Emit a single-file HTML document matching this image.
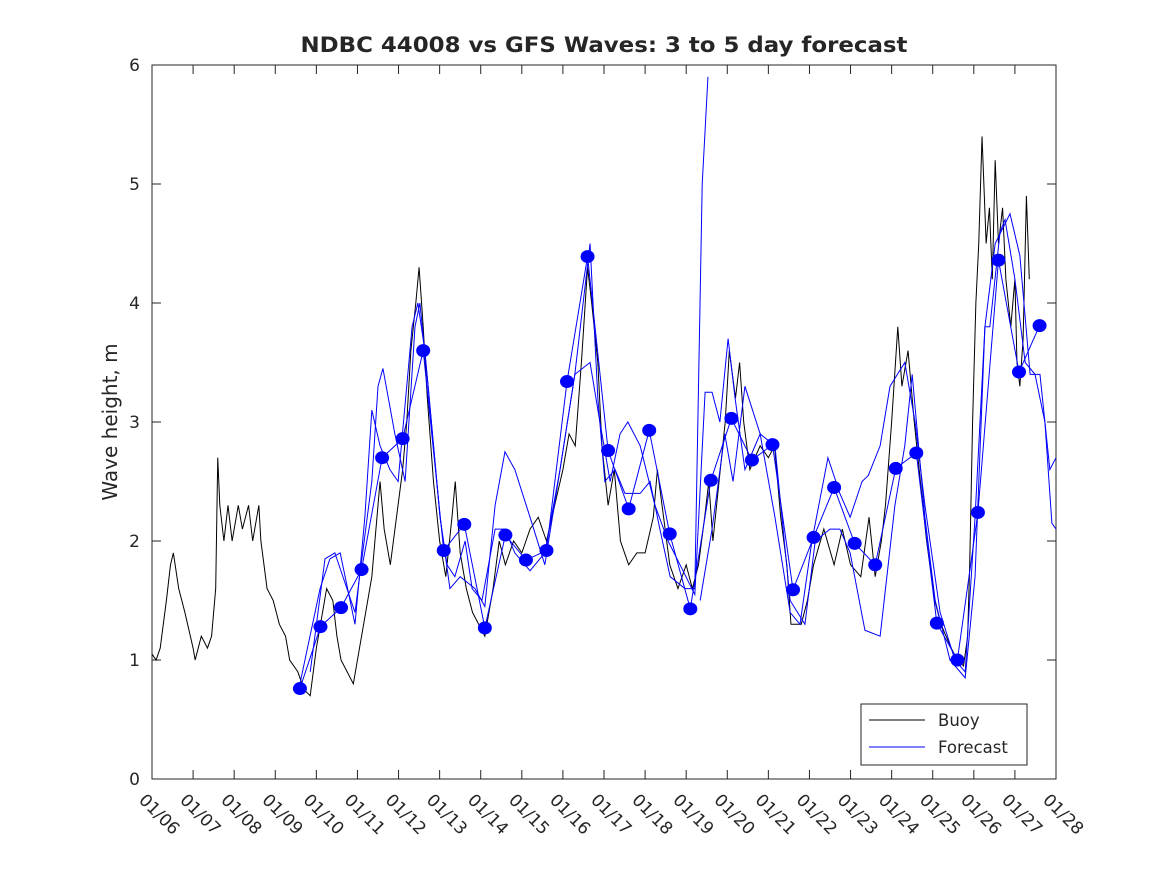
<!DOCTYPE html>
<html><head><meta charset="utf-8"><style>
body{margin:0;background:#fff}
svg text{font-family:"DejaVu Sans","Liberation Sans",sans-serif;fill:#262626}
</style></head><body>
<svg id="chart" width="1167" height="875">
<rect width="1167" height="875" fill="#fff"/>
<text x="604" y="52" text-anchor="middle" font-size="21" font-weight="bold" textLength="607" lengthAdjust="spacingAndGlyphs" fill="#000">NDBC 44008 vs GFS Waves: 3 to 5 day forecast</text>
<text transform="translate(117,422) rotate(-90)" text-anchor="middle" font-size="20">Wave height, m</text>
<g id="axes"></g>
<g id="plot"></g>
<g id="legend">
<rect x="861" y="704" width="166" height="61" fill="#fff" stroke="#262626" stroke-width="1"/>
<line x1="869" y1="720" x2="925" y2="720" stroke="#000"/>
<text x="938" y="726" font-size="16.5">Buoy</text>
<line x1="869" y1="747" x2="925" y2="747" stroke="#0000ff"/>
<text x="938" y="753" font-size="16.5">Forecast</text>
</g>
</svg>
<script>
const xTickLabels=["01/06","01/07","01/08","01/09","01/10","01/11","01/12","01/13","01/14","01/15","01/16","01/17","01/18","01/19","01/20","01/21","01/22","01/23","01/24","01/25","01/26","01/27","01/28"];
const yTicks=[0,1,2,3,4,5,6];
const buoyDays=[0,0.1,0.2,0.35,0.45,0.52,0.65,0.8,1.0,1.05,1.2,1.35,1.45,1.55,1.6,1.65,1.75,1.85,1.95,2.1,2.2,2.35,2.45,2.6,2.65,2.8,2.95,3.1,3.25,3.35,3.55,3.7,3.85,4.0,4.15,4.25,4.4,4.5,4.6,4.75,4.9,5.05,5.2,5.35,5.45,5.55,5.65,5.8,5.95,6.1,6.2,6.3,6.42,6.5,6.6,6.7,6.85,7.0,7.15,7.3,7.38,7.5,7.65,7.8,7.95,8.1,8.3,8.45,8.6,8.8,9.0,9.2,9.4,9.6,9.8,10.0,10.15,10.3,10.45,10.6,10.7,10.85,10.95,11.1,11.25,11.4,11.6,11.8,12.0,12.2,12.3,12.45,12.6,12.8,13.0,13.15,13.3,13.45,13.55,13.65,13.8,13.95,14.05,14.2,14.3,14.4,14.55,14.8,15.0,15.15,15.3,15.45,15.55,15.8,15.95,16.1,16.35,16.6,16.8,17.0,17.25,17.45,17.6,17.75,17.85,18.0,18.15,18.25,18.4,18.55,18.7,18.85,19.05,19.2,19.45,19.6,19.75,19.85,19.9,19.97,20.05,20.12,20.2,20.3,20.38,20.45,20.52,20.6,20.7,20.78,20.9,21.0,21.05,21.12,21.2,21.28,21.35];
const buoyHeights=[1.05,1.0,1.1,1.5,1.8,1.9,1.6,1.4,1.1,1.0,1.2,1.1,1.2,1.6,2.7,2.3,2.0,2.3,2.0,2.3,2.1,2.3,2.0,2.3,2.0,1.6,1.5,1.3,1.2,1.0,0.9,0.75,0.7,1.1,1.4,1.6,1.5,1.2,1.0,0.9,0.8,1.1,1.4,1.7,2.1,2.5,2.1,1.8,2.2,2.6,3.0,3.6,4.0,4.3,3.8,3.2,2.5,2.0,1.7,2.2,2.5,1.9,1.6,1.4,1.3,1.2,1.6,2.0,1.8,2.0,1.9,2.1,2.2,2.0,2.3,2.6,2.9,2.8,3.5,4.3,4.0,3.5,2.8,2.3,2.6,2.0,1.8,1.9,1.9,2.2,2.6,2.2,1.8,1.6,1.8,1.6,1.8,2.2,2.5,2.0,2.5,3.0,3.6,3.2,3.5,3.0,2.6,2.8,2.7,2.8,2.2,1.8,1.3,1.3,1.5,1.8,2.1,1.8,2.1,1.8,1.7,2.2,1.7,2.0,2.3,3.0,3.8,3.3,3.6,3.0,2.5,2.0,1.5,1.3,1.1,1.0,0.95,1.2,1.8,3.0,4.0,4.5,5.4,4.5,4.8,4.2,5.2,4.5,4.8,4.2,3.8,4.2,3.5,3.3,3.7,4.9,4.2];
const dotDays=[3.6,4.1,4.6,5.1,5.6,6.1,6.6,7.1,7.6,8.1,8.6,9.1,9.6,10.1,10.6,11.1,11.6,12.1,12.6,13.1,13.6,14.1,14.6,15.1,15.6,16.1,16.6,17.1,17.6,18.1,18.6,19.1,19.6,20.1,20.6,21.1,21.6];
const dotHeights=[0.76,1.28,1.44,1.76,2.70,2.86,3.60,1.92,2.14,1.27,2.05,1.84,1.92,3.34,4.39,2.76,2.27,2.93,2.06,1.43,2.51,3.03,2.68,2.81,1.59,2.03,2.45,1.98,1.80,2.61,2.74,1.31,1.00,2.24,4.36,3.42,3.81];
const fcBDays=[3.85,4.21,4.45,4.94,5.35,5.50,5.62,5.91,6.16,6.40,6.52,6.72,7.01,7.25,7.50,7.86,8.10,8.35,8.59,8.83,9.20,9.56,9.93,10.29,10.66,10.90,11.15,11.39,11.58,11.88,12.24,12.56,12.85,13.21,13.46,13.63,13.82,14.02,14.19,14.43,14.80,15.16,15.53,15.77,16.06,16.45,16.74,16.99,17.28,17.43,17.72,17.96,18.32,18.57,18.81,19.18,19.54,19.79,20.03,20.27,20.52,20.88,21.12,21.37,21.61,21.85,22.0];
const fcBHeights=[0.9,1.85,1.9,1.4,2.5,3.3,3.45,2.9,2.5,3.8,4.0,3.3,2.2,1.6,1.7,1.6,1.45,2.3,2.75,2.6,2.2,1.8,2.6,3.4,3.5,3.0,2.5,2.9,3.0,2.8,2.3,2.0,1.8,1.55,3.25,3.25,3.0,3.7,3.2,2.6,2.9,2.2,1.4,1.3,2.0,2.7,2.4,2.2,2.5,2.55,2.8,3.3,3.5,3.0,2.3,1.4,1.0,0.9,2.2,3.8,4.5,4.75,4.4,3.4,3.4,2.6,2.7];
const fcCDays=[3.60,4.09,4.33,4.58,4.94,5.18,5.35,5.55,5.79,5.99,6.33,6.47,6.64,7.01,7.18,7.37,7.62,7.79,8.03,8.35,8.59,8.83,9.20,9.56,9.93,10.29,10.66,10.85,11.02,11.27,11.51,11.88,12.12,12.36,12.61,12.97,13.21,13.39,13.53];
const fcCHeights=[0.8,1.6,1.85,1.9,1.3,2.2,3.1,2.8,2.6,2.5,3.8,4.0,3.6,2.2,1.8,1.7,2.0,1.6,1.5,2.1,2.1,1.9,1.75,1.9,2.6,3.4,4.5,3.2,2.5,2.6,2.4,2.4,2.5,2.1,1.7,1.6,1.6,5.0,5.9];
const fcDDays=[13.34,13.63,13.94,14.14,14.43,14.80,15.16,15.53,15.89,16.14,16.50,16.74,16.99,17.35,17.72,18.08,18.32,18.50,18.81,19.06,19.42,19.79,20.03,20.27,20.39,20.64,20.76,21.00,21.25,21.49,21.73,21.90,22.0];
const fcDHeights=[1.5,2.1,2.9,2.5,3.3,2.9,2.8,1.5,1.3,2.0,2.1,2.1,1.9,1.25,1.2,2.3,2.8,3.4,2.2,1.5,1.0,0.85,1.7,3.8,3.8,4.6,4.7,4.2,3.5,3.4,3.0,2.15,2.1];

const X0=152,X1=1056,Y0=779,Y1=65;
const xs=d=>X0+(X1-X0)*d/22;
const ys=v=>Y0-(Y0-Y1)*v/6;
const NS='http://www.w3.org/2000/svg';
function mk(tag,attrs,parent){const e=document.createElementNS(NS,tag);for(const k in attrs)e.setAttribute(k,attrs[k]);parent.appendChild(e);return e;}
const axes=document.getElementById('axes'),plot=document.getElementById('plot');
const box=mk('rect',{x:X0,y:Y1,width:X1-X0,height:Y0-Y1,fill:'#fff',stroke:'#262626','stroke-width':1},axes);


yTicks.forEach(v=>{const y=ys(v);
mk('path',{d:`M${X0},${y}h9M${X1},${y}h-9`,stroke:'#262626'},axes);
const t=mk('text',{x:X0-12,y:y+6,'text-anchor':'end','font-size':17},axes);t.textContent=v;

});
xTickLabels.forEach((l,i)=>{const x=xs(i);
mk('path',{d:`M${x},${Y0}v-9M${x},${Y1}v9`,stroke:'#262626'},axes);
const t=mk('text',{transform:`translate(${x-14},${Y0+22}) rotate(45)`,'font-size':17},axes);t.textContent=l;

});
function line(days,vals,color,name){const p=mk('polyline',{points:days.map((d,i)=>xs(d)+','+ys(vals[i])).join(' '),fill:'none',stroke:color,'stroke-width':1},plot);

}
line(buoyDays,buoyHeights,'#000','buoy-line');
line(dotDays,dotHeights,'#0000ff','forecast-line-a');
line(fcBDays,fcBHeights,'#0000ff','forecast-line-b');
line(fcCDays,fcCHeights,'#0000ff','forecast-line-c');
line(fcDDays,fcDHeights,'#0000ff','forecast-line-d');
dotDays.forEach((d,i)=>{const c=mk('ellipse',{cx:xs(d),cy:ys(dotHeights[i]),rx:7,ry:6.5,fill:'#0000ff'},plot);

});
</script>
</body></html>
